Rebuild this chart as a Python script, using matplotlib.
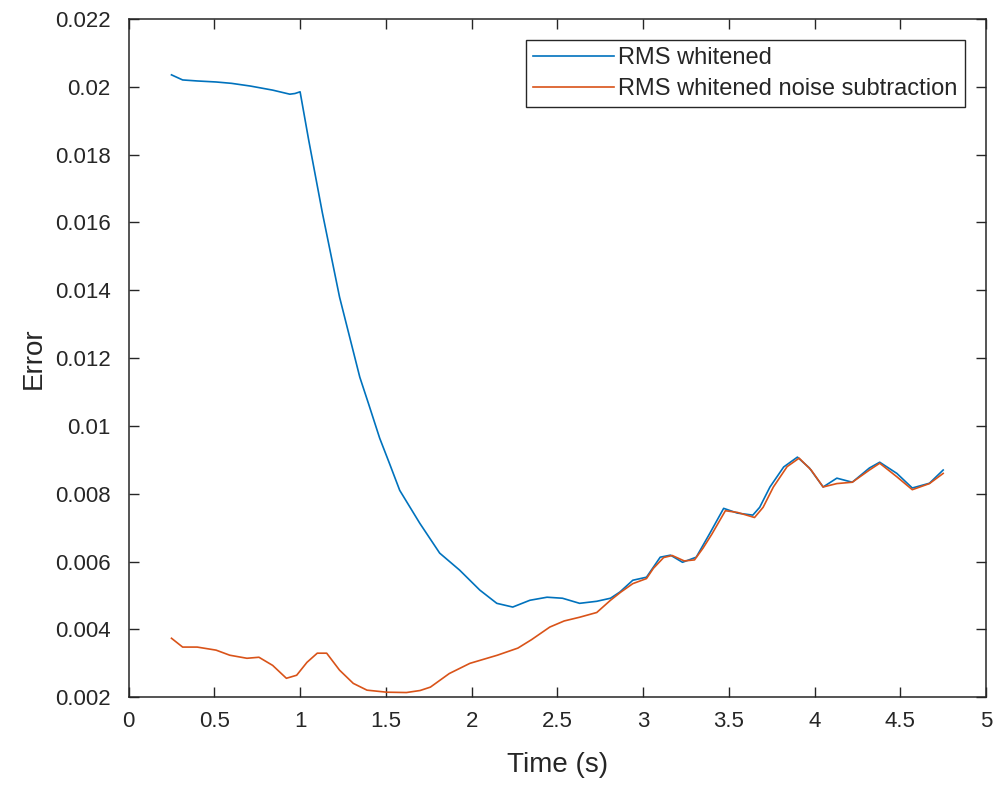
import matplotlib

matplotlib.use("Agg")

import matplotlib.pyplot as plt
from matplotlib.ticker import FuncFormatter

# RMS whitened
whitened_t = [
    0.25, 0.315, 0.40, 0.51, 0.60, 0.71, 0.84, 0.94, 0.97, 1.0,
    1.05, 1.13, 1.23, 1.348, 1.40, 1.464, 1.523, 1.581, 1.698, 1.814,
    1.93, 2.048, 2.147, 2.24, 2.34, 2.44, 2.53, 2.63, 2.73, 2.81,
    2.864, 2.94, 3.02, 3.10, 3.16, 3.23, 3.31, 3.39, 3.47, 3.55,
    3.64, 3.68, 3.74, 3.82, 3.90, 3.97, 4.05, 4.13, 4.22, 4.32,
    4.38, 4.48, 4.57, 4.67, 4.75,
]
whitened_err = [
    0.02035, 0.0202, 0.02017, 0.02014, 0.0201, 0.02002, 0.0199, 0.01978, 0.0198, 0.01985,
    0.01843, 0.01628, 0.0138, 0.01144, 0.01064, 0.00964, 0.00887, 0.0081, 0.00713, 0.00625,
    0.00575, 0.00516, 0.00477, 0.00466, 0.00486, 0.00495, 0.00492, 0.00477, 0.00483, 0.00492,
    0.0051, 0.00545, 0.00554, 0.00613, 0.00619, 0.00598, 0.00613, 0.00684, 0.00757, 0.00743,
    0.00737, 0.0076, 0.0082, 0.00879, 0.00908, 0.00876, 0.0082, 0.00846, 0.00834, 0.00876,
    0.00893, 0.0086, 0.00817, 0.00831, 0.0087,
]

# RMS whitened noise subtraction
subtracted_t = [
    0.25, 0.315, 0.40, 0.51, 0.59, 0.69, 0.76, 0.84, 0.92, 0.98,
    1.04, 1.10, 1.155, 1.23, 1.31, 1.39, 1.505, 1.62, 1.70, 1.76,
    1.87, 1.99, 2.15, 2.27, 2.35, 2.456, 2.54, 2.63, 2.73, 2.81,
    2.87, 2.94, 3.02, 3.06, 3.12, 3.17, 3.24, 3.30, 3.35, 3.40,
    3.48, 3.55, 3.65, 3.70, 3.76, 3.84, 3.91, 3.98, 4.05, 4.13,
    4.22, 4.32, 4.38, 4.48, 4.57, 4.67, 4.75,
]
subtracted_err = [
    0.00374, 0.00348, 0.00348, 0.00339, 0.00324, 0.00315, 0.00318, 0.00294, 0.00256, 0.00265,
    0.00303, 0.0033, 0.0033, 0.0028, 0.00241, 0.00221, 0.00215, 0.00214, 0.0022, 0.0023,
    0.0027, 0.003, 0.00324, 0.00345, 0.0037, 0.00407, 0.00425, 0.00436, 0.0045, 0.00486,
    0.0051, 0.00535, 0.0055, 0.0058, 0.00612, 0.00618, 0.00602, 0.00605, 0.0064, 0.0068,
    0.0075, 0.00745, 0.0073, 0.0076, 0.0082, 0.0088, 0.00905, 0.0087, 0.0082, 0.0083,
    0.00834, 0.0087, 0.0089, 0.0085, 0.00812, 0.0083, 0.0086,
]

x_ticks = [0, 0.5, 1, 1.5, 2, 2.5, 3, 3.5, 4, 4.5, 5]
y_ticks = [0.002, 0.004, 0.006, 0.008, 0.01, 0.012, 0.014, 0.016, 0.018, 0.02, 0.022]

plt.rcParams["font.family"] = ["Liberation Sans", "DejaVu Sans"]
ink = "#262626"

fig = plt.figure(figsize=(9.97, 7.87), dpi=100)
ax = fig.add_axes([0.129, 0.114, 0.860, 0.862])

ax.plot(whitened_t, whitened_err, color="#0072BD", linewidth=1.2, label="RMS whitened")
ax.plot(subtracted_t, subtracted_err, color="#D95319", linewidth=1.2,
        label="RMS whitened noise subtraction")

ax.set_xlim(0, 5)
ax.set_ylim(0.002, 0.022)
ax.set_xticks(x_ticks)
ax.set_yticks(y_ticks)
fmt = FuncFormatter(lambda v, _: "{:g}".format(round(v, 6)))
ax.xaxis.set_major_formatter(fmt)
ax.yaxis.set_major_formatter(fmt)
ax.tick_params(direction="in", length=7, width=1.0, top=True, right=True,
               labelsize=16, colors=ink)
ax.tick_params(axis="y", pad=13)
ax.tick_params(axis="x", pad=10)
for spine in ax.spines.values():
    spine.set_color(ink)
    spine.set_linewidth(1.1)

ax.set_xlabel("Time (s)", fontsize=20, color=ink, labelpad=14)
ax.set_ylabel("Error", fontsize=20, color=ink, labelpad=6)

leg = ax.legend(loc="upper right", fontsize=17, handlelength=3.4, handletextpad=0.2,
                borderaxespad=0.9, borderpad=0.3, labelspacing=0.38, fancybox=False,
                framealpha=1.0, edgecolor=ink)
leg.get_frame().set_linewidth(1.0)
for text in leg.get_texts():
    text.set_color(ink)

fig.savefig("out.png", dpi=100, facecolor="white")
plt.close(fig)
